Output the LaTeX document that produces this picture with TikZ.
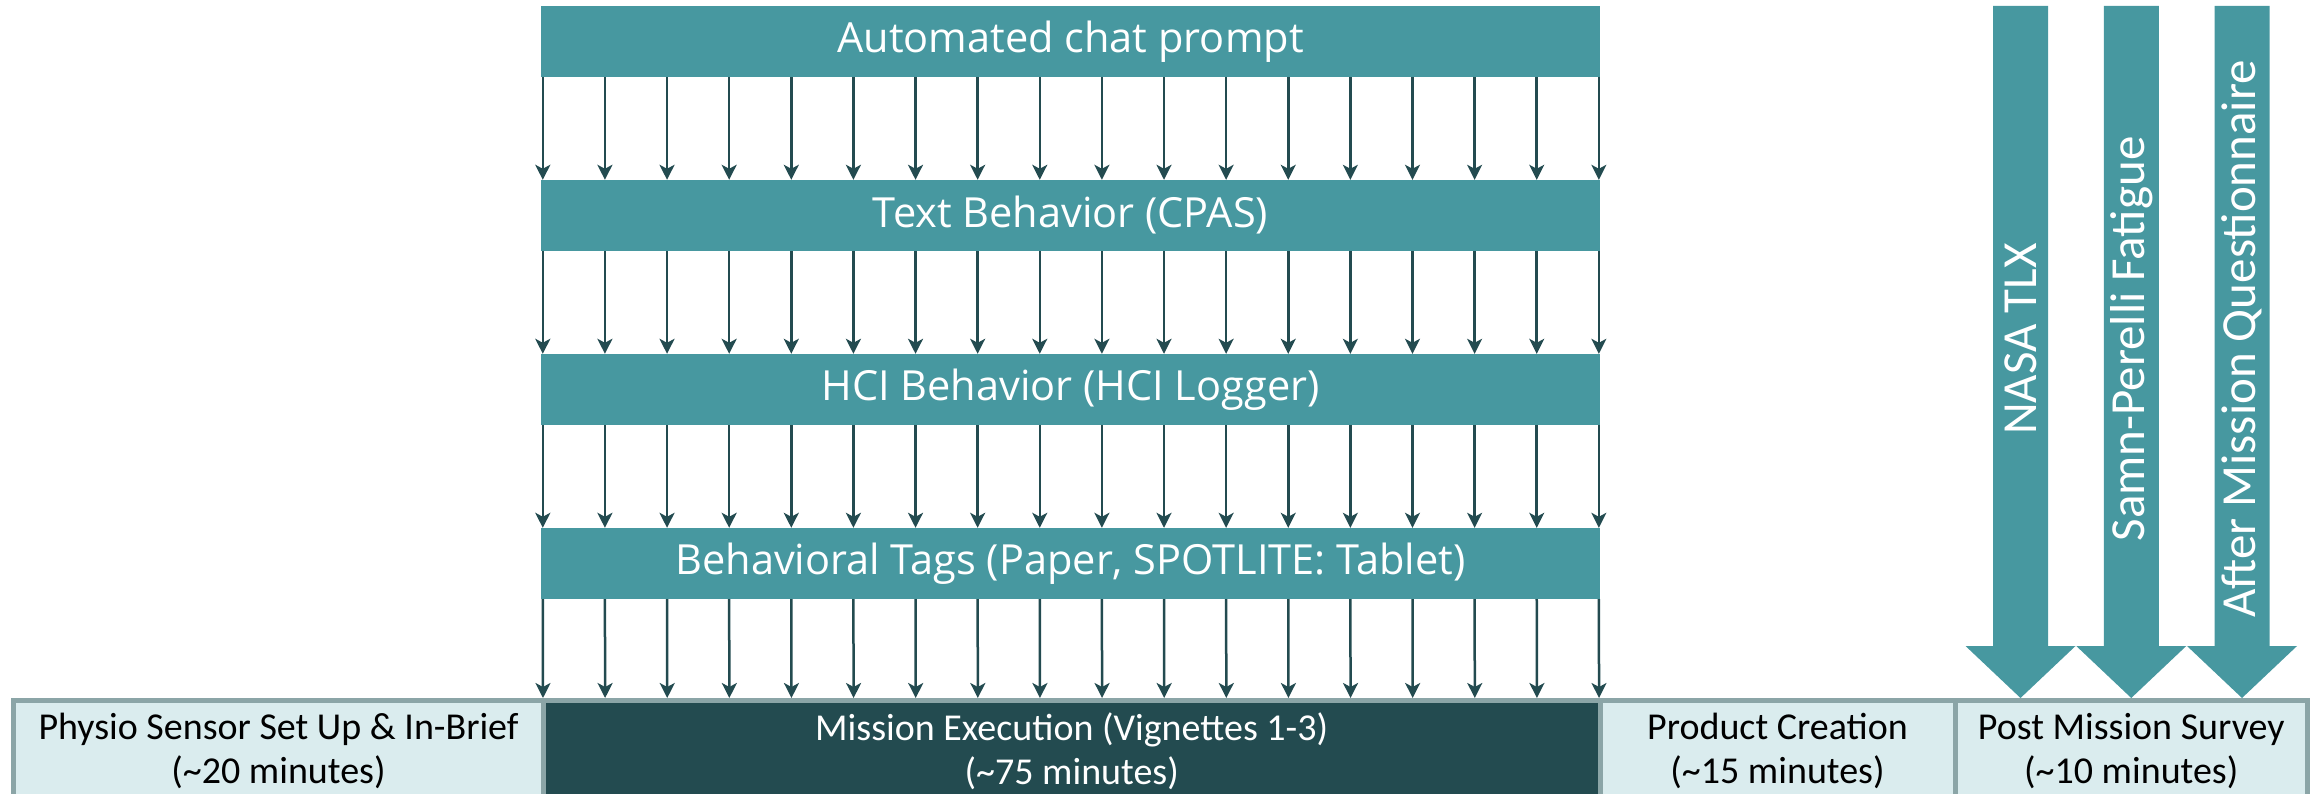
\documentclass[tikz,border=0pt]{standalone}
\usepackage{fontspec}
\setmainfont{Carlito}
\newfontfamily\barfont{Open Sans}
\usetikzlibrary{arrows.meta}

\definecolor{barteal}{HTML}{4798A0}
\definecolor{darkteal}{HTML}{234B50}
\definecolor{lightteal}{HTML}{DAECEE}
\definecolor{edgegray}{HTML}{8BA5A7}

\begin{document}
\begin{tikzpicture}[x={(1bp,0bp)}, y={(0bp,-1bp)},
    bar/.style={fill=barteal, text=white, minimum width=1059bp, minimum height=71bp, inner sep=0pt, font=\barfont\fontsize{41.5bp}{50bp}\selectfont},
    tick/.style={darkteal, line width=2.5bp, -{Stealth[length=15bp,width=15bp,inset=4bp]}},
    phase/.style={draw=edgegray, line width=5bp, fill=lightteal, minimum height=100.5bp, inner sep=0pt, align=center, font=\fontsize{38bp}{44bp}\selectfont},
    surveytext/.style={text=white, rotate=90, inner sep=0pt, font=\fontsize{49bp}{56bp}\selectfont}]

  \useasboundingbox (0,0) rectangle (2318,793);

  \def\d{174};
  \def\dx{62.12};

  %measure bars
  \foreach \i/\name/\txt in {0/prompt/Automated chat prompt, 1/cpas/Text Behavior (CPAS), 2/hci/HCI Behavior (HCI Logger), 3/tags/{Behavioral Tags (Paper, SPOTLITE: Tablet)}}{
    \node[bar] (\name) at (1070.5, 41.5 + \i*\d) {\txt};
  }

  %timeline
  \node[phase, minimum width=530bp] (brief) at (278.5, 750.75) {Physio Sensor Set Up \& In-Brief\\(\textasciitilde 20 minutes)};
  \node[phase, minimum width=1056.5bp, fill=darkteal, text=white] (mission) at (1071.75, 750.75) {Mission Execution (Vignettes 1-3)\\(\textasciitilde 75 minutes)};
  \node[phase, minimum width=355bp] (product) at (1777.5, 750.75) {Product Creation\\(\textasciitilde 15 minutes)};
  \node[phase, minimum width=352.5bp] (post) at (2131.25, 750.75) {Post Mission Survey\\(\textasciitilde 10 minutes)};

  %ticks between bars
  \foreach \a/\b in {prompt/cpas, cpas/hci, hci/tags, tags/mission}{
    \foreach \k in {0,...,17}{
      \draw[tick] ([xshift=2bp+\k*\dx bp]\a.south west) -- ([xshift=2bp+\k*\dx bp]\b.north west);
    }
  }

  %survey arrows
  \foreach \i/\name/\txt in {0/tlx/NASA TLX, 1/fatigue/Samn-Perelli Fatigue, 2/amq/After Mission Questionnaire}{
    \coordinate (\name) at (2020.5 + \i*110.75, 6);
    \fill[barteal] (\name) ++(-27.5,0) -- ++(55,0) -- ++(0,640) -- ++(27.5,0) -- (\name |- post.north) -- ++(-55,-52) -- ++(27.5,0) -- cycle;
    \node[surveytext] (\name-label) at ([yshift=-333bp]\name) {\txt};
  }

\end{tikzpicture}
\end{document}
